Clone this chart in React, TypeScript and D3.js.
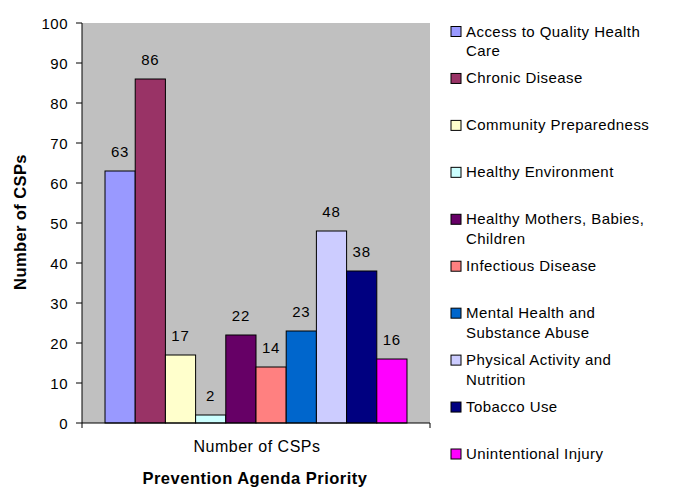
import React, { useEffect, useRef } from "react";
import * as d3 from "d3";

const categories = [
  "Access to Quality Health Care",
  "Chronic Disease",
  "Community Preparedness",
  "Healthy Environment",
  "Healthy Mothers, Babies, Children",
  "Infectious Disease",
  "Mental Health and Substance Abuse",
  "Physical Activity and Nutrition",
  "Tobacco Use",
  "Unintentional Injury",
];
const values = [63, 86, 17, 2, 22, 14, 23, 48, 38, 16];
const legendLines = [
  ["Access to Quality Health", "Care"],
  ["Chronic Disease"],
  ["Community Preparedness"],
  ["Healthy Environment"],
  ["Healthy Mothers, Babies,", "Children"],
  ["Infectious Disease"],
  ["Mental Health and", "Substance Abuse"],
  ["Physical Activity and", "Nutrition"],
  ["Tobacco Use"],
  ["Unintentional Injury"],
];
const colors = [
  "#9999FF", "#993366", "#FFFFCC", "#CCFFFF", "#660066",
  "#FF8080", "#0066CC", "#CCCCFF", "#000080", "#FF00FF",
];
const group = ["Number of CSPs"];
const yTicks = [0, 10, 20, 30, 40, 50, 60, 70, 80, 90, 100];

const W = 673;
const H = 487;
const FONT = "'Liberation Sans', Arial, sans-serif";

export default function App() {
  const ref = useRef<SVGSVGElement>(null);

  useEffect(() => {
    const svg = d3.select(ref.current);
    svg.selectAll("*").remove();

    const left = 82, right = 430, top = 23, bottom = 423;

    const x0 = d3.scaleBand().domain(group).range([left, right]).paddingOuter(0.0762).paddingInner(0);
    const x1 = d3.scaleBand().domain(categories).range([0, x0.bandwidth()]);
    const y = d3.scaleLinear().domain([0, 100]).range([bottom, top]);

    // plot area
    svg.append("rect")
      .attr("x", left).attr("y", top)
      .attr("width", right - left).attr("height", bottom - top)
      .attr("fill", "#C0C0C0");

    // bars
    const g = svg.append("g").attr("transform", "translate(" + x0(group[0]) + ",0)");
    g.selectAll("rect.bar")
      .data(values)
      .enter()
      .append("rect")
      .attr("class", "bar")
      .attr("x", (d, i) => x1(categories[i]) as number)
      .attr("y", d => y(d))
      .attr("width", x1.bandwidth())
      .attr("height", d => y(0) - y(d))
      .attr("fill", (d, i) => colors[i])
      .attr("stroke", "#000")
      .attr("stroke-width", 1);

    g.selectAll("text.val")
      .data(values)
      .enter()
      .append("text")
      .attr("class", "val")
      .attr("x", (d, i) => (x1(categories[i]) as number) + x1.bandwidth() / 2)
      .attr("y", d => y(d) - 14)
      .attr("text-anchor", "middle")
      .attr("font-family", FONT)
      .attr("font-size", 15)
      .attr("letter-spacing", 0.8)
      .attr("fill", "#000")
      .text(d => d);

    // y axis
    const yAxis = svg.append("g");
    yAxis.append("line")
      .attr("x1", left).attr("x2", left)
      .attr("y1", top).attr("y2", bottom + 5)
      .attr("stroke", "#000");
    yTicks.forEach(t => {
      yAxis.append("line")
        .attr("x1", left - 6).attr("x2", left)
        .attr("y1", y(t)).attr("y2", y(t))
        .attr("stroke", "#000");
      yAxis.append("text")
        .attr("x", left - 14).attr("y", y(t) + 5.5)
        .attr("text-anchor", "end")
        .attr("font-family", FONT)
        .attr("font-size", 15)
        .attr("letter-spacing", 0.5)
        .text(t);
    });

    // x axis
    svg.append("line")
      .attr("x1", left).attr("x2", right)
      .attr("y1", bottom).attr("y2", bottom)
      .attr("stroke", "#000");
    svg.append("line")
      .attr("x1", right).attr("x2", right)
      .attr("y1", bottom).attr("y2", bottom + 5)
      .attr("stroke", "#000");
    svg.append("text")
      .attr("x", (x0(group[0]) as number) + x0.bandwidth() / 2 + 1)
      .attr("y", 452)
      .attr("text-anchor", "middle")
      .attr("font-family", FONT)
      .attr("font-size", 16)
      .attr("letter-spacing", 0.5)
      .text(group[0]);

    svg.append("text")
      .attr("x", 255)
      .attr("y", 484)
      .attr("text-anchor", "middle")
      .attr("font-family", FONT)
      .attr("font-size", 16.5)
      .attr("font-weight", "bold")
      .attr("letter-spacing", 0.5)
      .text("Prevention Agenda Priority");

    svg.append("text")
      .attr("transform", "translate(26," + 222 + ") rotate(-90)")
      .attr("text-anchor", "middle")
      .attr("font-family", FONT)
      .attr("font-size", 16.5)
      .attr("font-weight", "bold")
      .attr("letter-spacing", 0.4)
      .text("Number of CSPs");

    // legend
    const ly = d3.scalePoint().domain(categories).range([31, 453.5]);
    const legend = svg.append("g");
    categories.forEach((c, i) => {
      const cy = ly(c) as number;
      legend.append("rect")
        .attr("x", 451).attr("y", cy - 4.5)
        .attr("width", 10).attr("height", 10)
        .attr("fill", colors[i])
        .attr("stroke", "#000");
      legendLines[i].forEach((line, j) => {
        legend.append("text")
          .attr("x", 466)
          .attr("y", cy + 5.5 + j * 19.5)
          .attr("font-family", FONT)
          .attr("font-size", 15)
          .attr("letter-spacing", 0.45)
          .text(line);
      });
    });
  }, []);

  return (
    <div>
      <svg
        ref={ref}
        width={W}
        height={H}
        style={{ display: "block", position: "absolute", left: 0, top: 0, background: "#fff" }}
      />
    </div>
  );
}
